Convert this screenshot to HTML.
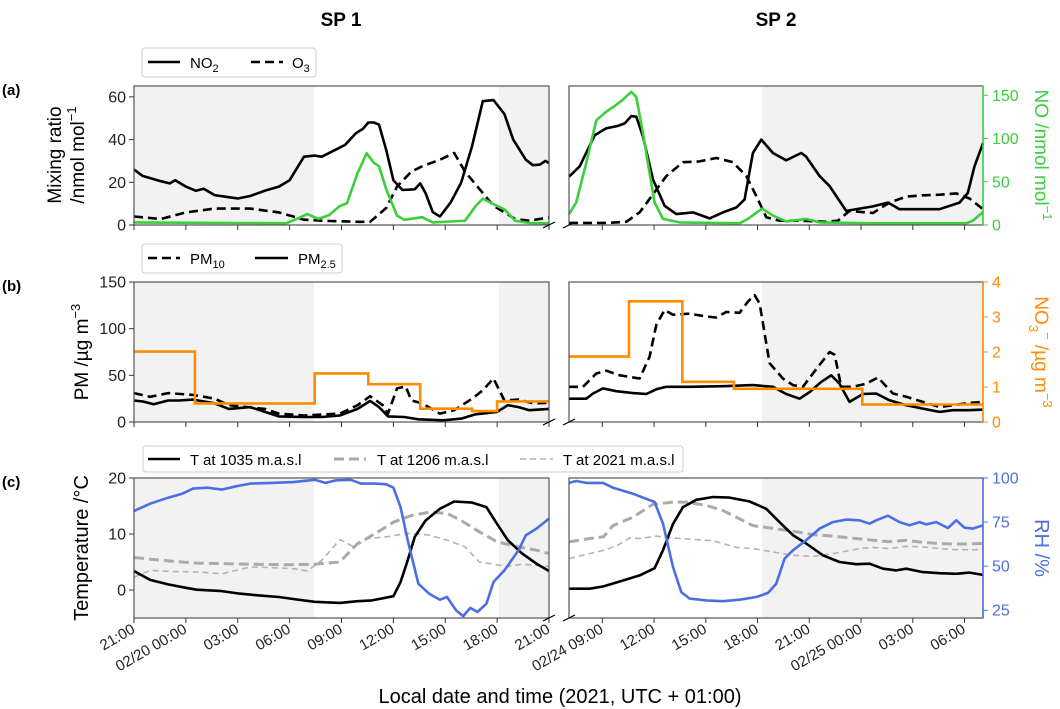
<!DOCTYPE html>
<html><head><meta charset="utf-8"><style>
html,body{margin:0;padding:0;background:#fff;}
svg{display:block;font-family:"Liberation Sans",sans-serif;}
</style></head><body>
<svg id="chart" width="1060" height="709" viewBox="0 0 1060 709" xmlns="http://www.w3.org/2000/svg"></svg>
<script>
// ---------- DATA (hours from panel start; left starts 02/19 21:00, right starts ~02/24 07:05) ----------
const leftTickLabels = ["21:00","02/20 00:00","03:00","06:00","09:00","12:00","15:00","18:00","21:00"];
const rightTickLabels = ["02/24 09:00","12:00","15:00","18:00","21:00","02/25 00:00","03:00","06:00"];
const leftTickHours = [0,3,6,9,12,15,18,21,24];
const rightTickHours = [1.93,4.93,7.93,10.93,13.93,16.93,19.93,22.93];
const leftNight = [[0,10.4],[21.1,24]];
const rightNight = [[11.18,24]];

// (a) left
const aL_NO2_t = [0,0.5,1.55,2.07,2.38,3.0,3.58,4.03,4.66,5.48,6.0,6.72,7.55,8.38,9.0,9.83,10.45,10.86,11.59,12.21,12.83,13.24,13.55,13.86,14.17,14.59,15.0,15.52,16.24,16.55,16.86,17.28,17.69,18.31,18.93,19.55,20.17,20.79,21.42,21.93,22.66,23.07,23.48,23.79,24];
const aL_NO2_v = [26,23,20.5,19.5,21,18,16,17,14,13,12.4,13.6,16,18,21,32,32.5,32,35,37.5,43,45,48,48,47,35,21,16.4,16.7,19.5,15,6,4,10.5,20,37,58,58.5,52,40,30.6,28,28.3,30,29];
const aL_O3_t = [0,1.55,3.0,4.66,6.72,8.38,9.83,10.86,12.93,13.66,14.59,15.21,16.04,16.66,17.69,18.52,19.14,20.17,20.79,21.42,22.04,22.86,24];
const aL_O3_v = [4,2.8,5.9,7.7,7.7,5.9,2.5,2,1.5,1.5,8,18,25,27.5,30.6,33.7,25,15,9,5.9,2.8,2,3.5];
const aL_NO_t = [0,8.79,9.41,10.03,10.66,11.28,11.9,12.31,12.93,13.45,13.86,14.17,14.59,15.21,15.62,16.66,17.28,18.31,19.14,19.76,20.17,20.79,21.42,22.04,22.86,24];
const aL_NO_v = [3,2,7,12.6,7,11.5,22,25,60,83,72,68,41,11,6,9,3,4,5,22,30.5,24,18,5,2.3,2];
// (a) right
const aR_NO2_t = [0,0.62,1.49,2.16,2.84,3.23,3.61,3.9,4.29,4.87,5.54,6.22,7.19,8.15,8.92,9.7,10.18,10.66,11.15,11.82,12.59,13.46,13.75,14.53,15.11,16.07,16.84,17.62,18.49,19.16,19.93,21.48,22.64,23.12,23.51,24];
const aR_NO2_v = [22.6,27.5,42,45.3,46.4,47.6,51,50.7,41.4,21.3,9,5.1,5.9,3.1,5.9,8.2,12,33.7,40,33.7,30.3,33.7,32,22.9,18.2,6.6,7.7,8.7,10.5,7.4,7.4,7.4,10.5,15,27.5,38.3];
const aR_O3_t = [0,2.16,3.32,4.09,4.87,5.64,6.61,7.57,8.54,9.5,10.28,10.86,11.44,12.21,13.37,14.91,15.59,16.26,17.23,17.62,18.58,19.55,20.51,21.48,22.45,23.22,24];
const aR_O3_v = [1,1,1.5,5.9,14.4,22.9,29.4,29.8,31.4,29.4,22.9,13.6,3.6,2,2,1.5,2,6.6,5.9,5.6,10.5,13.3,13.9,14.2,14.8,12.4,7.4];
const aR_NO_t = [0,0.42,1.0,1.58,2.16,2.74,3.13,3.61,3.9,4.29,4.67,4.96,5.45,6.41,9.89,10.37,11.2,11.82,12.59,13.75,14.53,17.62,23.03,23.41,24];
const aR_NO_v = [12.6,26,72,121,131,139,145,154,148,106,60,26,7,3,2,7,19,11,4,7,3,2,2,5,15];
// (b) left
const bL_PM25_t = [0,0.52,1.14,1.97,2.59,3.41,4.66,5.48,6.72,7.55,8.38,9.83,10.86,11.9,12.93,13.66,14.17,14.69,15.62,16.45,17.9,18.93,19.76,21.0,21.62,22.24,22.86,24];
const bL_PM25_v = [23,22,19,23,23,24,20,14,16,11,6,5.4,5.4,7,14,22.6,16,6,5.4,2.9,1.8,3.6,8.3,10.8,18,16,12.6,14];
const bL_PM10_t = [0,0.93,1.97,3.41,4.66,5.48,7.55,8.38,9.83,11.9,12.93,13.66,14.38,14.69,15.21,15.72,16.04,16.66,17.69,18.52,19.55,20.17,20.79,21.42,22.24,23.07,24];
const bL_PM10_v = [31,27,31,29,25,18,14,9,7,9,18,27.6,18,9,36,38,23,20,9,12.6,25,34,46.6,23,24,20,20.5];
const bL_NO3_edges = [0,3.52,10.45,13.55,16.55,19.55,21.0,24];
const bL_NO3_v = [2.01,0.53,1.39,1.08,0.38,0.31,0.59];
// (b) right
const bR_PM25_t = [0,1.0,1.39,1.97,2.74,3.71,4.48,5.06,5.64,6.99,8.92,10.66,11.82,12.59,13.37,13.95,14.62,15.2,15.68,16.26,17.04,17.81,18.58,19.55,20.51,21.48,22.26,23.22,24];
const bR_PM25_v = [25,25,30.5,36,33,31,30,35,37.7,37.7,38.4,39.5,37.7,30,25,32,43,50,41,21.5,30,30.5,23.3,18,14.4,10.8,12.6,12.6,13.3];
const bR_PM10_t = [0,0.81,1.58,2.16,2.94,4.09,4.67,5.06,5.54,6.03,6.99,7.96,8.54,9.12,9.89,10.37,10.76,11.05,11.63,12.4,12.98,13.56,14.14,15.11,15.4,15.78,16.46,17.23,17.91,18.78,19.55,20.51,21.48,22.26,23.22,24];
const bR_PM10_v = [37.7,37.7,52,55,50,46.6,70,104,120,115,116,113,112,118,117,129,136,127,63,46.6,39.5,37.7,52,75,72,37.7,37.7,41,47.7,30.5,27,21.5,16,18,20.5,21.5];
const bR_NO3_edges = [0,3.48,6.57,9.56,17.0,24];
const bR_NO3_v = [1.87,3.45,1.15,0.95,0.5];
// (c) left
const cL_T1035_t = [0,0.93,1.97,3.0,3.62,5.07,6.1,7.14,8.38,9.41,10.45,11.9,12.93,13.76,15.0,15.41,15.83,16.24,16.86,17.69,18.52,19.55,20.38,21.0,21.62,22.45,23.28,24];
const cL_T1035_v = [3.4,1.8,1.0,0.4,0.06,-0.2,-0.65,-0.95,-1.25,-1.7,-2.1,-2.3,-2.0,-1.85,-1.1,1.4,5.3,9.5,12.4,14.5,15.8,15.6,14.8,11.8,8.9,6.5,4.7,3.4];
const cL_T1206_t = [0,1.55,3.62,6.72,8.79,10.45,11.9,12.93,13.97,15.0,16.04,17.07,18.1,18.93,19.97,21.0,22.24,23.28,24];
const cL_T1206_v = [5.8,5.3,4.8,4.6,4.5,4.6,5.0,8.3,10.1,12.1,13.3,13.9,13.7,12.4,10.4,8.6,7.7,7.1,6.5];
const cL_T2021_t = [0,0.93,2.17,3.83,5.07,6.72,7.97,9.21,10.03,10.86,11.9,12.72,13.55,14.59,15.83,17.07,18.1,19.14,19.97,20.79,21.62,22.45,24];
const cL_T2021_v = [2.3,3.5,3.3,3.2,2.9,4.1,4.0,3.8,3.4,5.3,9.0,7.7,9.2,9.5,10.1,9.8,8.9,7.7,5.0,4.6,4.2,4.6,4.2];
const cL_RH_t = [0,0.93,1.97,2.79,3.41,4.24,5.07,5.9,6.72,7.97,9.21,10.45,11.07,11.69,12.52,13.14,13.97,14.59,15.0,15.41,15.83,16.45,17.07,17.69,18.1,18.62,19.04,19.45,19.86,20.38,20.79,21.42,22.24,22.66,23.28,24];
const cL_RH_v = [81.3,85.4,88.8,91.1,94,94.5,93.4,95.3,96.8,97.2,97.7,99,97.2,98.7,99,96.8,96.8,96.4,94.5,83.6,64.7,40,34.4,31,32.5,25,21.7,26.3,24,28.7,41,47.6,59,67.5,71.3,77];
// (c) right
const cR_T1035_t = [0,1.2,2.0,3.13,4.09,4.96,5.45,6.03,6.61,7.38,8.34,9.31,10.47,11.44,12.21,12.98,13.75,14.72,15.68,16.65,17.42,18.2,18.97,19.55,20.51,21.48,22.45,23.22,24];
const cR_T1035_v = [0.24,0.24,0.65,1.7,2.6,3.9,7.1,11.8,14.8,16.1,16.6,16.5,15.8,14.5,12.1,9.8,8.3,6.2,5.0,4.6,4.7,3.8,3.5,3.8,3.2,3.0,2.9,3.1,2.7];
const cR_T1206_t = [0,1.2,2.0,2.55,3.71,4.87,6.03,6.8,7.96,8.92,9.89,10.66,11.82,12.98,14.14,15.3,16.65,17.62,18.58,19.55,20.51,21.48,22.45,24];
const cR_T1206_v = [8.6,9.2,9.5,11.5,13.0,15.3,15.7,15.7,15.1,14.2,12.7,11.5,11.0,10.5,9.9,9.6,9.2,8.9,8.6,8.9,8.5,8.3,8.2,8.3];
const cR_T2021_t = [0,1.2,2.16,2.94,3.52,4.09,5.06,6.41,8.34,9.7,10.66,11.82,12.98,14.14,15.3,16.84,17.62,18.58,19.55,20.51,21.48,22.45,24];
const cR_T2021_v = [5.6,6.5,7.2,8.2,9.3,9.2,9.6,9.2,8.8,7.6,7.4,6.8,6.2,6.0,6.5,7.4,7.6,7.4,7.8,7.7,7.4,7.2,7.2];
const cR_RH_t = [0,0.42,1.0,1.97,2.55,3.71,4.96,5.45,6.03,6.51,6.99,7.96,8.92,9.89,10.86,11.53,12.01,12.5,12.98,13.75,14.53,15.3,16.07,16.84,17.42,17.81,18.49,19.16,19.74,20.32,20.71,21.29,21.97,22.45,22.93,23.41,24];
const cR_RH_v = [97.2,98.3,97.2,97.2,94.5,91.1,86.4,74.1,49.5,35.3,31.6,30.6,30.1,31,32.5,34.8,40,54.3,59,64.7,71.3,75,76.4,76,74.1,76,78.6,75,73.2,75,73.7,75,71.6,76,71.8,71.3,73.2];

const aTicks = [0,20,40,60], noTicks = [0,50,100,150];
const bTicks = [0,50,100,150], no3Ticks = [0,1,2,3,4];
const cTicks = [0,10,20], rhTicks = [25,50,75,100];

// ---------- DRAW ----------
const NS = "http://www.w3.org/2000/svg";
const svg = document.getElementById("chart");
function el(tag, attrs, parent, text){
  const e = document.createElementNS(NS, tag);
  for (const k in attrs) e.setAttribute(k, attrs[k]);
  if (text !== undefined) e.textContent = text;
  (parent || svg).appendChild(e);
  return e;
}
const L = {x0:134, x1:549}, R = {x0:569, x1:983};
const rows = {a:{y0:86,y1:225}, b:{y0:282,y1:422}, c:{y0:478,y1:618}};
function xs(side){ const p = side==="L"?L:R; return h => p.x0 + h/24*(p.x1-p.x0); }
function ys(row, lo, hi){ const r = rows[row]; return v => r.y1 - (v-lo)/(hi-lo)*(r.y1-r.y0); }

function panelBg(side,row,nights){
  const p = side==="L"?L:R, r=rows[row], X=xs(side);
  const g = el("g",{});
  
  
  nights.forEach(n=>{
    const s = el("rect",{x:X(n[0]),y:r.y0,width:X(n[1])-X(n[0]),height:r.y1-r.y0,fill:"#f2f2f2"},g);
    
    
  });
  return g;
}
function frame(side,row,rightColor){
  const p = side==="L"?L:R, r=rows[row];
  el("rect",{x:p.x0,y:r.y0,width:p.x1-p.x0,height:r.y1-r.y0,fill:"none",stroke:"#555","stroke-width":1.2});
  if (rightColor) el("line",{x1:p.x1,y1:r.y0,x2:p.x1,y2:r.y1,stroke:rightColor,"stroke-width":1.5});
  const X = xs(side);
  const th = side==="L"?leftTickHours:rightTickHours;
  th.forEach(h=>el("line",{x1:X(h),y1:r.y1,x2:X(h),y2:r.y1+5,stroke:"#333","stroke-width":1}));
  // break marks
  const bx = side==="L"?p.x1:p.x0;
  el("line",{x1:bx-6,y1:r.y1+3,x2:bx+6,y2:r.y1-3,stroke:"#000","stroke-width":1.2});
}
function line(side,row,lo,hi,t,v,attrs,name){
  const X=xs(side), Y=ys(row,lo,hi);
  const d = t.map((h,i)=>(i?"L":"M")+X(h).toFixed(1)+","+Y(v[i]).toFixed(1)).join("");
  const pth = el("path",Object.assign({d:d,fill:"none","stroke-linejoin":"round"},attrs));
  
  
}
function steps(side,row,lo,hi,edges,v,attrs,name){
  const X=xs(side), Y=ys(row,lo,hi);
  let d="";
  v.forEach((val,i)=>{ d += (i?"L":"M")+X(edges[i]).toFixed(1)+","+Y(val).toFixed(1)+"L"+X(edges[i+1]).toFixed(1)+","+Y(val).toFixed(1); });
  const pth = el("path",Object.assign({d:d,fill:"none"},attrs));
  
  
}
function yTicksLeft(row,lo,hi,ticks){
  const Y=ys(row,lo,hi);
  ticks.forEach(t=>{
    el("line",{x1:L.x0-5,y1:Y(t),x2:L.x0,y2:Y(t),stroke:"#333"});
    const tx = el("text",{x:L.x0-8,y:Y(t)+5.5,"text-anchor":"end","font-size":16,fill:"#222"},svg,String(t));
    
    
  });
}
function yTicksRight(row,lo,hi,ticks,color){
  const Y=ys(row,lo,hi);
  ticks.forEach(t=>{
    el("line",{x1:R.x1,y1:Y(t),x2:R.x1+5,y2:Y(t),stroke:color});
    const tx = el("text",{x:R.x1+9,y:Y(t)+5.5,"font-size":16,fill:color},svg,String(t));
    
    
  });
}
const blk = {stroke:"#000","stroke-width":2.6};
const blkD = {stroke:"#000","stroke-width":2.6,"stroke-dasharray":"9,5"};
const green = {stroke:"#3ccf3c","stroke-width":2.6};
const orange = {stroke:"#ff8c00","stroke-width":2.6};
const blue = {stroke:"#4a6fe3","stroke-width":2.6};
const gThick = {stroke:"#aaaaaa","stroke-width":3,"stroke-dasharray":"10,5"};
const gThin = {stroke:"#b3b3b3","stroke-width":1.6,"stroke-dasharray":"6,4"};

// Row a
panelBg("L","a",leftNight); panelBg("R","a",rightNight);
line("L","a",0,65.1,aL_O3_t,aL_O3_v,blkD,"o3-sp1");
line("L","a",0,65.1,aL_NO2_t,aL_NO2_v,blk,"no2-sp1");
line("L","a",0,160.7,aL_NO_t,aL_NO_v,green,"no-sp1");
line("R","a",0,65.1,aR_O3_t,aR_O3_v,blkD,"o3-sp2");
line("R","a",0,65.1,aR_NO2_t,aR_NO2_v,blk,"no2-sp2");
line("R","a",0,160.7,aR_NO_t,aR_NO_v,green,"no-sp2");
frame("L","a"); frame("R","a","#3ccf3c");
yTicksLeft("a",0,65.1,aTicks); yTicksRight("a",0,160.7,noTicks,"#3ccf3c");
// Row b
panelBg("L","b",leftNight); panelBg("R","b",rightNight);
line("L","b",0,150,bL_PM10_t,bL_PM10_v,blkD,"pm10-sp1");
line("L","b",0,150,bL_PM25_t,bL_PM25_v,blk,"pm25-sp1");
steps("L","b",0,4,bL_NO3_edges,bL_NO3_v,orange,"nitrate-sp1");
line("R","b",0,150,bR_PM10_t,bR_PM10_v,blkD,"pm10-sp2");
line("R","b",0,150,bR_PM25_t,bR_PM25_v,blk,"pm25-sp2");
steps("R","b",0,4,bR_NO3_edges,bR_NO3_v,orange,"nitrate-sp2");
frame("L","b"); frame("R","b","#ff8c00");
yTicksLeft("b",0,150,bTicks); yTicksRight("b",0,4,no3Ticks,"#ff8c00");
// Row c
panelBg("L","c",leftNight); panelBg("R","c",rightNight);
line("L","c",-5,20,cL_T2021_t,cL_T2021_v,gThin,"t2021-sp1");
line("L","c",-5,20,cL_T1206_t,cL_T1206_v,gThick,"t1206-sp1");
line("L","c",-5,20,cL_T1035_t,cL_T1035_v,blk,"t1035-sp1");
line("L","c",20.6,100,cL_RH_t,cL_RH_v,blue,"rh-sp1");
line("R","c",-5,20,cR_T2021_t,cR_T2021_v,gThin,"t2021-sp2");
line("R","c",-5,20,cR_T1206_t,cR_T1206_v,gThick,"t1206-sp2");
line("R","c",-5,20,cR_T1035_t,cR_T1035_v,blk,"t1035-sp2");
line("R","c",20.6,100,cR_RH_t,cR_RH_v,blue,"rh-sp2");
frame("L","c"); frame("R","c","#4a6fe3");
yTicksLeft("c",-5,20,cTicks); yTicksRight("c",20.6,100,rhTicks,"#4a6fe3");

// x tick labels
function xLabels(side,hours,labels){
  const X=xs(side), y=rows.c.y1+14;
  hours.forEach((h,i)=>{
    const t = el("text",{x:X(h)+2,y:y,"text-anchor":"end","font-size":15,fill:"#222",transform:"rotate(-30 "+(X(h)+2)+" "+y+")"},svg,labels[i]);
    
    
  });
}
xLabels("L",leftTickHours,leftTickLabels);
xLabels("R",rightTickHours,rightTickLabels);
</script>
<!-- static text -->
<script>
(function(){
const NS="http://www.w3.org/2000/svg", svg=document.getElementById("chart");
svg.insertAdjacentHTML("beforeend", `
<text x="341" y="26" text-anchor="middle" font-size="19" font-weight="bold">SP 1</text>
<text x="776" y="26" text-anchor="middle" font-size="19" font-weight="bold">SP 2</text>
<text x="2" y="95" font-size="15" font-weight="bold">(a)</text>
<text x="2" y="291" font-size="15" font-weight="bold">(b)</text>
<text x="2" y="487" font-size="15" font-weight="bold">(c)</text>
<text transform="translate(61,155) rotate(-90)" text-anchor="middle" font-size="19">Mixing ratio</text>
<text transform="translate(84,155) rotate(-90)" text-anchor="middle" font-size="19">/nmol mol<tspan font-size="13" dy="-8">−1</tspan></text>
<text transform="translate(88,352) rotate(-90)" text-anchor="middle" font-size="19">PM /µg m<tspan font-size="13" dy="-8">−3</tspan></text>
<text transform="translate(88,548) rotate(-90)" text-anchor="middle" font-size="20">Temperature /°C</text>
<text transform="translate(1035,155) rotate(90)" text-anchor="middle" font-size="19" fill="#3ccf3c">NO /nmol mol<tspan font-size="13" dy="-8">−1</tspan></text>
<text transform="translate(1035,352) rotate(90)" text-anchor="middle" font-size="19" fill="#ff8c00">NO<tspan font-size="13" dy="6">3</tspan><tspan font-size="13" dy="-14">−</tspan><tspan dy="8"> /µg m</tspan><tspan font-size="13" dy="-8">−3</tspan></text>
<text transform="translate(1035,548) rotate(90)" text-anchor="middle" font-size="20" fill="#4a6fe3">RH /%</text>
<text x="560" y="703" text-anchor="middle" font-size="20">Local date and time (2021, UTC + 01:00)</text>
<g>
 <rect x="142" y="48" width="174" height="29" rx="3" fill="#fff" stroke="#ccc"/>
 <line x1="148" y1="62" x2="180" y2="62" stroke="#000" stroke-width="2.6"/>
 <text x="190" y="68" font-size="15">NO<tspan font-size="11" dy="4">2</tspan></text>
 <line x1="251" y1="62" x2="283" y2="62" stroke="#000" stroke-width="2.6" stroke-dasharray="9,5"/>
 <text x="292" y="68" font-size="15">O<tspan font-size="11" dy="4">3</tspan></text>
</g>
<g>
 <rect x="142" y="244" width="200" height="29" rx="3" fill="#fff" stroke="#ccc"/>
 <line x1="148" y1="258" x2="180" y2="258" stroke="#000" stroke-width="2.6" stroke-dasharray="9,5"/>
 <text x="190" y="264" font-size="15">PM<tspan font-size="11" dy="4">10</tspan></text>
 <line x1="255" y1="258" x2="288" y2="258" stroke="#000" stroke-width="2.6"/>
 <text x="298" y="264" font-size="15">PM<tspan font-size="11" dy="4">2.5</tspan></text>
</g>
<g>
 <rect x="143" y="446" width="540" height="26" rx="3" fill="#fff" stroke="#ccc"/>
 <line x1="148" y1="459" x2="180" y2="459" stroke="#000" stroke-width="2.6"/>
 <text x="190" y="465" font-size="15">T at 1035 m.a.s.l</text>
 <line x1="334" y1="459" x2="366" y2="459" stroke="#aaa" stroke-width="3" stroke-dasharray="10,5"/>
 <text x="377" y="465" font-size="15">T at 1206 m.a.s.l</text>
 <line x1="520" y1="459" x2="553" y2="459" stroke="#b3b3b3" stroke-width="1.6" stroke-dasharray="6,4"/>
 <text x="563" y="465" font-size="15">T at 2021 m.a.s.l</text>
</g>`);
})();
</script>
</body></html>
